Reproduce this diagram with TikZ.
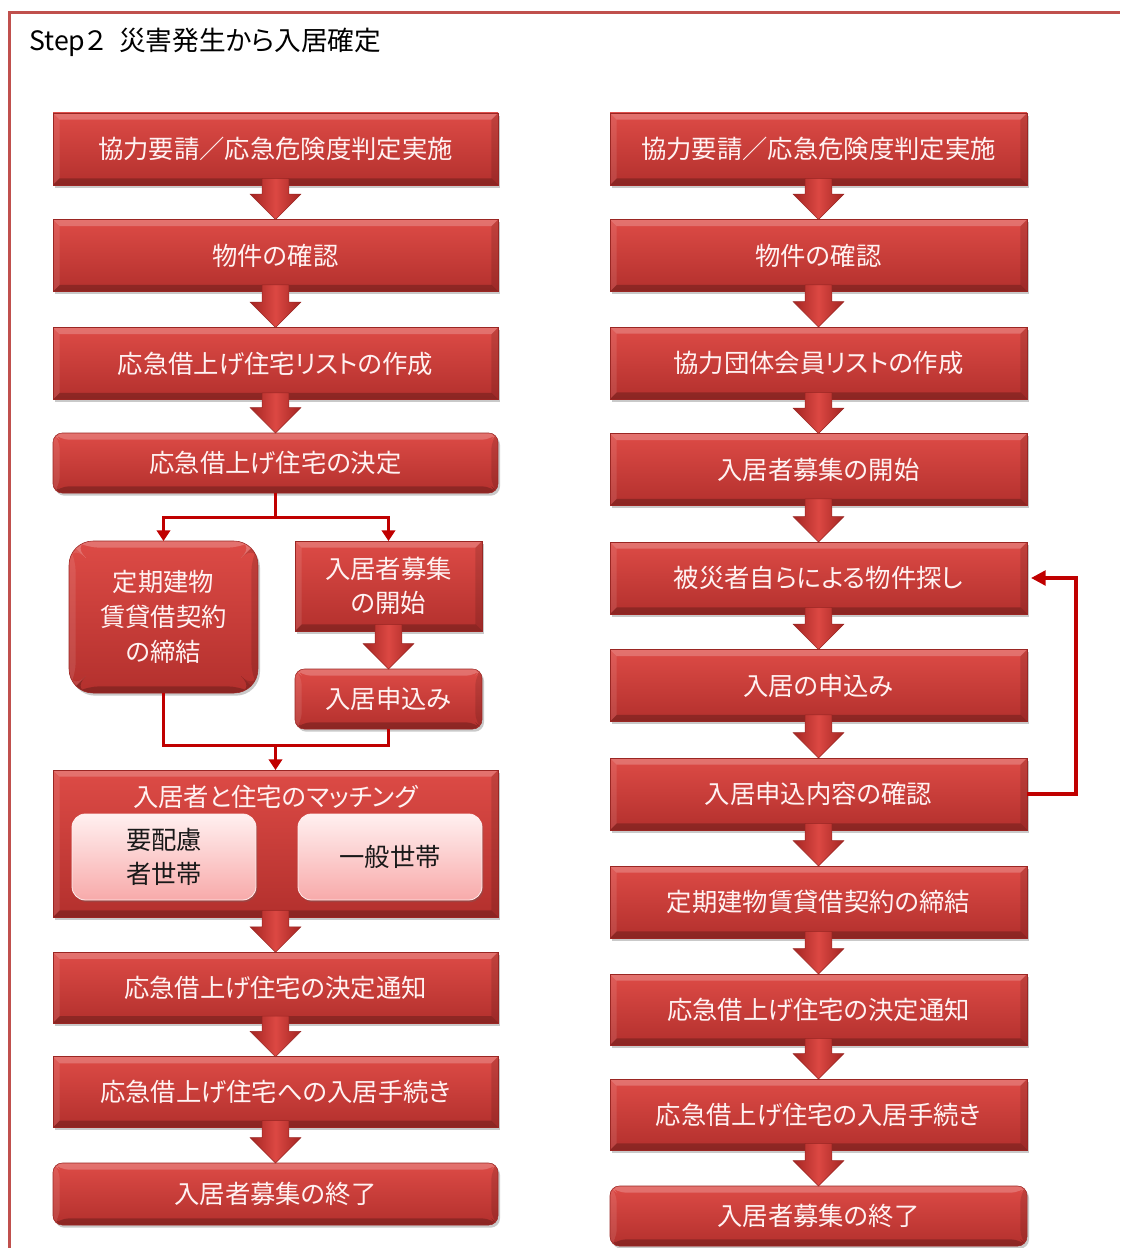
\documentclass[tikz,border=0pt]{standalone}
\usepackage{fontspec}
\setmainfont{Noto Sans CJK JP}[RawFeature=+palt]
\usetikzlibrary{shadows,calc,arrows.meta}
\definecolor{frame}{HTML}{C0504D}
\definecolor{rtop}{HTML}{DD4B46}
\definecolor{rbot}{HTML}{B3302D}
\definecolor{rdraw}{HTML}{9A2623}
\definecolor{conn}{HTML}{C00000}
\definecolor{ptop}{HTML}{FFF0F0}
\definecolor{pbot}{HTML}{F8AAAA}
\definecolor{btext}{HTML}{FFF2F2}
\definecolor{adark}{HTML}{A32522}
\definecolor{alight}{HTML}{DC4843}
\newcommand\bevelpic{%
 \fill[white,opacity=.22] (path picture bounding box.north west) -- (path picture bounding box.north east) -- ([xshift=-5pt,yshift=-5pt]path picture bounding box.north east) -- ([xshift=5pt,yshift=-5pt]path picture bounding box.north west) -- cycle;
 \fill[white,opacity=.10] (path picture bounding box.north west) -- (path picture bounding box.south west) -- ([xshift=5pt,yshift=5pt]path picture bounding box.south west) -- ([xshift=5pt,yshift=-5pt]path picture bounding box.north west) -- cycle;
 \fill[black,opacity=.12] (path picture bounding box.north east) -- (path picture bounding box.south east) -- ([xshift=-5pt,yshift=5pt]path picture bounding box.south east) -- ([xshift=-5pt,yshift=-5pt]path picture bounding box.north east) -- cycle;
 \fill[black,opacity=.22] (path picture bounding box.south west) -- (path picture bounding box.south east) -- ([xshift=-5pt,yshift=5pt]path picture bounding box.south east) -- ([xshift=5pt,yshift=5pt]path picture bounding box.south west) -- cycle;}
\newcommand\barrow[2]{%
 \path[blockarrow] let \p1=(#1.south), \p2=(#2.north) in
 (\x1-10pt,\y1+5pt) -- (\x1-10pt,\y2+19pt) -- (\x1-19pt,\y2+19pt) -- (\x1,\y2) -- (\x1+19pt,\y2+19pt) -- (\x1+10pt,\y2+19pt) -- (\x1+10pt,\y1+5pt) -- cycle;}
\tikzset{
 redbox/.style={draw=rdraw, line width=0.4pt, top color=rtop, bottom color=rbot,
   inner sep=0pt, outer sep=0pt, align=center, text=btext,
   font=\fontsize{19}{26}\selectfont,
   drop shadow={shadow xshift=1.5pt, shadow yshift=-2pt, opacity=0.35, fill=black!60},
   path picture={\bevelpic}},
 lbox/.style={redbox, minimum width=333.75pt, minimum height=54pt},
 rbox/.style={redbox, minimum width=312.75pt, minimum height=54pt},
 pinkbox/.style={draw=white!80!pbot, line width=0.6pt, top color=ptop, bottom color=pbot,
   rounded corners=10pt, inner sep=0pt, outer sep=0pt, align=center, text=black!90,
   font=\fontsize{19}{25.5}\selectfont, minimum width=138pt, minimum height=64.5pt,
   drop shadow={shadow xshift=1pt, shadow yshift=-1.5pt, opacity=0.3, fill=black!60}},
 blockarrow/.style={draw=rdraw, line width=0.4pt, left color=adark, right color=adark, middle color=alight},
 conn/.style={draw=conn, line width=2.25pt},
 tip/.style={-{Triangle[width=10pt,length=8pt]}},
 fb/.style={draw=conn, line width=2.6pt, -{Triangle[width=11pt,length=11pt]}},
 title/.style={font=\fontsize{20}{24}\selectfont, text=black, inner sep=0pt},
}
\begin{document}
\begin{tikzpicture}[x=0.75pt,y=-0.75pt]
\useasboundingbox (0,0) rectangle (1120,1248);
\fill[white] (0,0) rectangle (1120,1248);
\draw[frame, line width=2.4pt] (9.5,1248) -- (9.5,12.5) -- (1120,12.5);
\node[title, anchor=west] (T) at (29,42) {Step２\hspace{10pt}災害発生から入居確定};

% left column
\node[lbox] (L1) at (275.5,149) {協力要請／応急危険度判定実施};
\node[lbox] (L2) at (275.5,255.5) {物件の確認};
\node[lbox] (L3) at (275.5,363.5) {応急借上げ住宅リストの作成};
\node[lbox, minimum height=45pt, rounded corners=7pt] (L4) at (275.5,463) {応急借上げ住宅の決定};
\node[redbox, minimum width=141.75pt, minimum height=114pt, rounded corners=18pt] (A5) at (163.5,617) {定期建物\\賃貸借契約\\の締結};
\node[redbox, minimum width=140.25pt, minimum height=67.5pt] (B5) at (388.5,586) {入居者募集\\の開始};
\node[redbox, minimum width=140.25pt, minimum height=45pt, rounded corners=7pt] (B6) at (388.5,699) {入居申込み};
\node[lbox, minimum height=110.25pt] (M) at (275.5,843.5) {};
\node[text=btext, font=\fontsize{19}{26}\selectfont, inner sep=0pt] (MT) at (275.5,797) {入居者と住宅のマッチング};
\node[pinkbox] (P1) at (164,857) {要配慮\\者世帯};
\node[pinkbox] (P2) at (390,857) {一般世帯};
\node[lbox, minimum height=53pt] (L8) at (275.5,987.5) {応急借上げ住宅の決定通知};
\node[lbox, minimum height=53pt] (L9) at (275.5,1092) {応急借上げ住宅への入居手続き};
\node[lbox, minimum height=46.5pt, rounded corners=7pt] (L10) at (275.5,1194) {入居者募集の終了};

% right column
\node[rbox] (R1) at (818.5,149) {協力要請／応急危険度判定実施};
\node[rbox] (R2) at (818.5,255.5) {物件の確認};
\node[rbox] (R3) at (818.5,363) {協力団体会員リストの作成};
\node[rbox] (R4) at (818.5,469.5) {入居者募集の開始};
\node[rbox] (R5) at (818.5,578) {被災者自らによる物件探し};
\node[rbox] (R6) at (818.5,685.5) {入居の申込み};
\node[rbox] (R7) at (818.5,794) {入居申込内容の確認};
\node[rbox] (R8) at (818.5,902) {定期建物賃貸借契約の締結};
\node[rbox, minimum height=53.25pt] (R9) at (818.5,1009.5) {応急借上げ住宅の決定通知};
\node[rbox, minimum height=53.25pt] (R10) at (818.5,1114.5) {応急借上げ住宅の入居手続き};
\node[rbox, minimum height=45pt, rounded corners=7pt] (R11) at (818.5,1216) {入居者募集の終了};

% block arrows
\barrow{L1}{L2}
\barrow{L2}{L3}
\barrow{L3}{L4}
\barrow{B5}{B6}
\barrow{M}{L8}
\barrow{L8}{L9}
\barrow{L9}{L10}
\barrow{R1}{R2}
\barrow{R2}{R3}
\barrow{R3}{R4}
\barrow{R4}{R5}
\barrow{R5}{R6}
\barrow{R6}{R7}
\barrow{R7}{R8}
\barrow{R8}{R9}
\barrow{R9}{R10}
\barrow{R10}{R11}

% connectors
\coordinate (S) at (275.5,517);
\draw[conn] (L4.south) -- (S);
\draw[conn, tip] (S) -| (A5.north);
\draw[conn, tip] (S) -| (B5.north);
\coordinate (J) at (275.5,745);
\draw[conn] (A5.south) |- (J) -| (B6.south);
\draw[conn, tip] (J) -- (M.north);
\coordinate (F1) at (1076,794);
\coordinate (F2) at (1076,578);
\draw[fb, shorten >=3pt] (R7.east) -- (F1) -- (F2) -- (R5.east);
\end{tikzpicture}
\end{document}
